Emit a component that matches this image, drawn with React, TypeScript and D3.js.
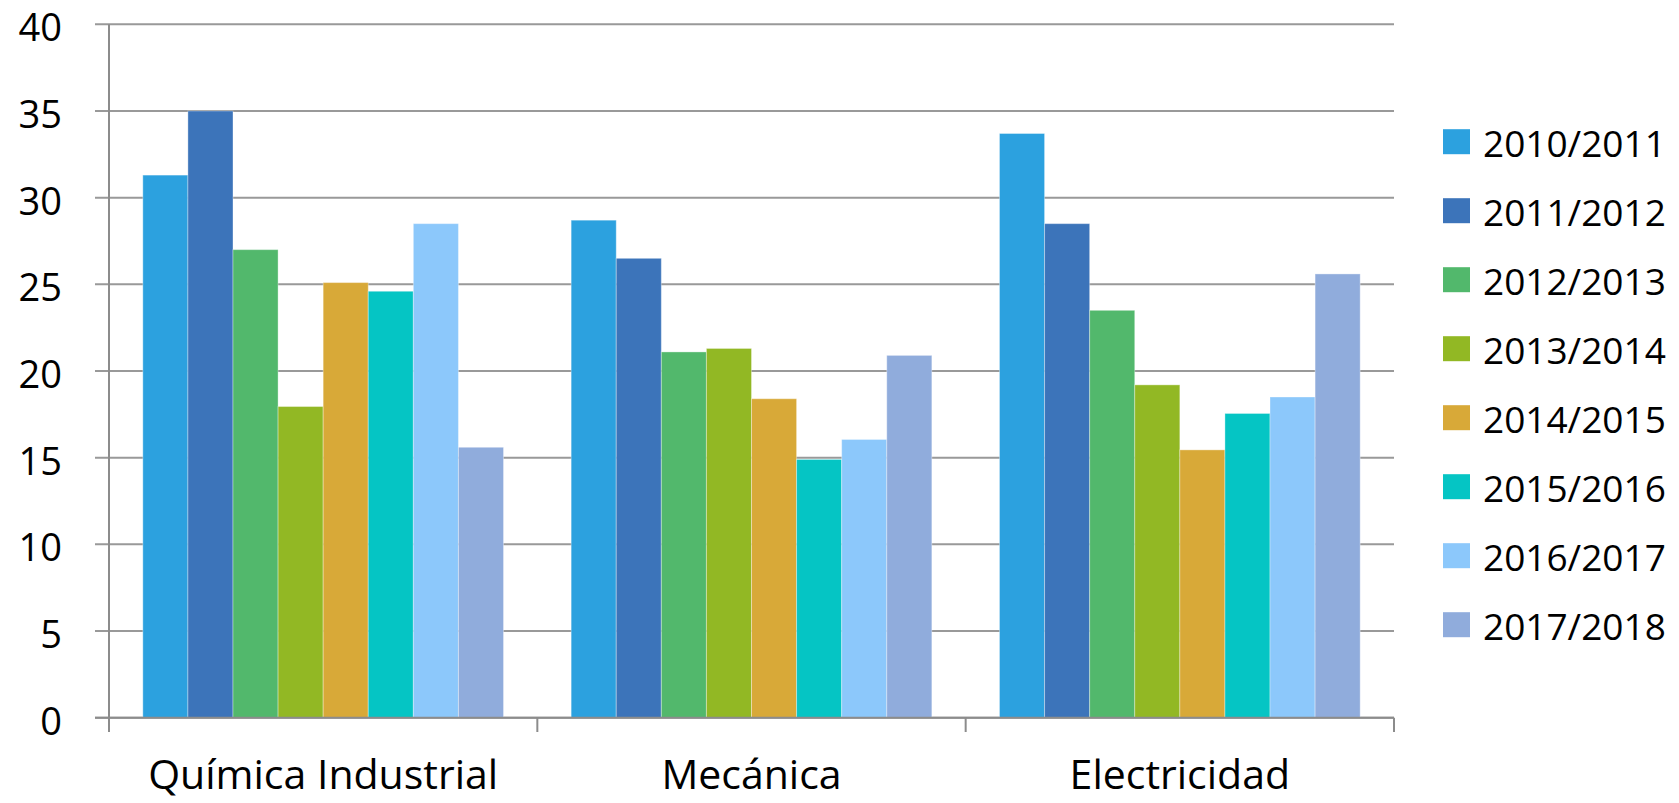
import React from "react";
import * as d3 from "d3";

const categories = ["Química Industrial", "Mecánica", "Electricidad"];
const seriesNames = ["2010/2011", "2011/2012", "2012/2013", "2013/2014", "2014/2015", "2015/2016", "2016/2017", "2017/2018"];
const seriesColors = ["#2CA1DF", "#3C74BA", "#52B86C", "#92B824", "#D8A938", "#05C5C4", "#8CC8FB", "#90ACDC"];
// values[seriesIndex][categoryIndex]
const v2010 = [31.3, 28.7, 33.7];
const v2011 = [35.0, 26.5, 28.5];
const v2012 = [27.0, 21.1, 23.5];
const v2013 = [17.95, 21.3, 19.2];
const v2014 = [25.1, 18.4, 15.45];
const v2015 = [24.6, 14.9, 17.55];
const v2016 = [28.5, 16.05, 18.5];
const v2017 = [15.6, 20.9, 25.6];
const seriesValues = [v2010, v2011, v2012, v2013, v2014, v2015, v2016, v2017];
const yTicks = [0, 5, 10, 15, 20, 25, 30, 35, 40];

const W = 1679;
const H = 803;
const left = 109;
const right = 1394;
const top = 24.3;
const bottom = 717.7;
const FONT = "'Open Sans', 'Noto Sans', sans-serif";

export default function App() {
  const y = d3.scaleLinear().domain([0, 40]).range([bottom, top]);
  const x0 = d3.scaleBand<string>().domain(categories).range([left, right]).paddingInner(0).paddingOuter(0);
  const x1 = d3
    .scaleBand<string>()
    .domain(seriesNames)
    .range([0, x0.bandwidth()])
    .paddingInner(0)
    .paddingOuter(0.75);

  const catTicks = [left, ...categories.map((c) => (x0(c) as number) + x0.bandwidth())];

  return (
    <svg
      width={W}
      height={H}
      style={{ position: "absolute", left: 0, top: 0, background: "#fff" }}
      fontFamily={FONT}
    >
      {/* gridlines */}
      {yTicks.map((t) => (
        <line
          key={"g" + t}
          x1={95}
          x2={right}
          y1={y(t)}
          y2={y(t)}
          stroke="#999"
          strokeWidth={2}
        />
      ))}
      {/* y tick labels */}
      {yTicks.map((t) => (
        <text
          key={"yl" + t}
          x={62}
          y={y(t) + 2}
          textAnchor="end"
          dominantBaseline="central"
          fontSize={38}
          fill="#000"
        >
          {t}
        </text>
      ))}
      {/* bars */}
      {categories.map((c, ci) => (
        <g key={c} transform={`translate(${x0(c)},0)`}>
          {seriesNames.map((s, si) => {
            const v = seriesValues[si][ci];
            return (
              <rect
                key={s}
                x={x1(s)}
                y={y(v)}
                width={x1.bandwidth()}
                height={y(0) - y(v)}
                fill={seriesColors[si]}
                stroke="#ffffff"
                strokeOpacity={0.35}
                strokeWidth={1}
              />
            );
          })}
        </g>
      ))}
      {/* axes */}
      <line x1={left} x2={left} y1={top} y2={732} stroke="#8c8c8c" strokeWidth={2} />
      <line x1={95} x2={right} y1={bottom} y2={bottom} stroke="#8c8c8c" strokeWidth={2} />
      {catTicks.map((cx, i) => (
        <line key={"ct" + i} x1={cx} x2={cx} y1={bottom} y2={732} stroke="#8c8c8c" strokeWidth={2} />
      ))}
      {/* category labels */}
      {categories.map((c) => (
        <text
          key={"cl" + c}
          x={(x0(c) as number) + x0.bandwidth() / 2}
          y={789}
          textAnchor="middle"
          fontSize={41}
          fill="#000"
        >
          {c}
        </text>
      ))}
      {/* legend */}
      {seriesNames.map((s, i) => {
        const cy = 141.7 + i * 69;
        return (
          <g key={"lg" + s}>
            <rect x={1443} y={cy - 12.5} width={27} height={25} fill={seriesColors[i]} />
            <text x={1483} y={cy + 1} dominantBaseline="central" fontSize={37} fill="#000">
              {s}
            </text>
          </g>
        );
      })}
    </svg>
  );
}
